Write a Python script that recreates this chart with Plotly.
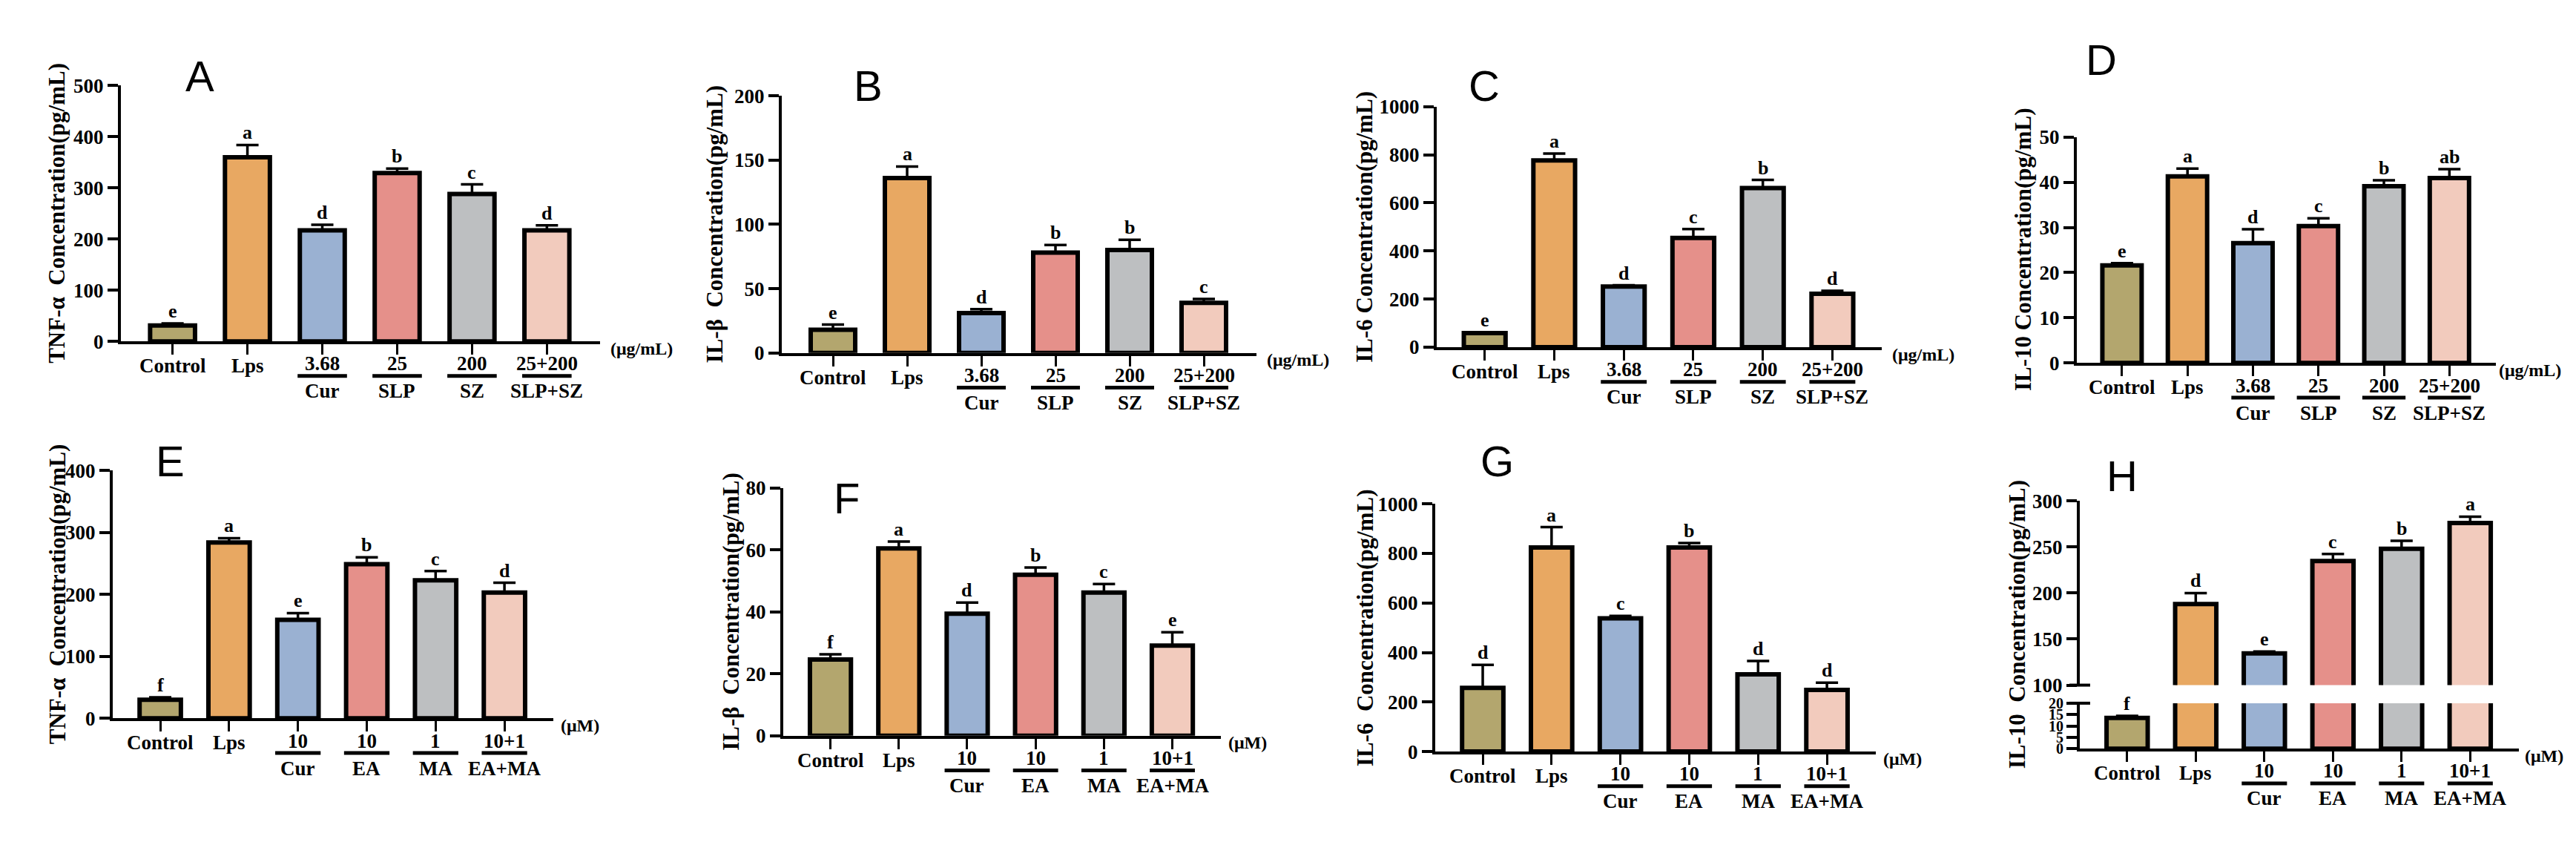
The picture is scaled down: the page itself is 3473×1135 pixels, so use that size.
import plotly.graph_objects as go

W, H = 3473, 1135

# group labels
top_groups = ["Control", "Lps", "Cur", "SLP", "SZ", "SLP+SZ"]
top_doses = ["", "", "3.68", "25", "200", "25+200"]
bottom_groups = ["Control", "Lps", "Cur", "EA", "MA", "EA+MA"]
bottom_doses = ["", "", "10", "10", "1", "10+1"]

bar_colors = ["#b3a66e", "#e8a862", "#9ab1d2", "#e5908a", "#bdbfc1", "#f2cbbd"]

# A  TNF-a (ug/mL treatments)
tnf_a = [31, 360, 217, 329, 288, 217]
tnf_a_err = [4, 24, 11, 9, 19, 10]
tnf_a_sig = ["e", "a", "d", "b", "c", "d"]
# B  IL-b
ilb_b = [18, 136, 31, 78, 80, 39]
ilb_b_err = [4, 9, 3, 6, 8, 3]
ilb_b_sig = ["e", "a", "d", "b", "b", "c"]
# C  IL-6
il6_c = [58, 776, 252, 454, 661, 222]
il6_c_err = [2, 29, 5, 37, 34, 12]
il6_c_sig = ["e", "a", "d", "c", "b", "d"]
# D  IL-10
il10_d = [21.6, 41.3, 26.5, 30.3, 39.1, 40.9]
il10_d_err = [0.5, 1.7, 3.1, 1.7, 1.3, 2.0]
il10_d_sig = ["e", "a", "d", "c", "b", "ab"]
# E  TNF-a (uM treatments)
tnf_e = [30, 284, 159, 249, 223, 203]
tnf_e_err = [4, 7, 11, 11, 15, 16]
tnf_e_sig = ["f", "a", "e", "b", "c", "d"]
# F  IL-b
ilb_f = [24.6, 60.5, 39.4, 52, 46.2, 29.1]
ilb_f_err = [1.7, 2.2, 3.6, 2.3, 2.8, 4.3]
ilb_f_sig = ["f", "a", "d", "b", "c", "e"]
# G  IL-6
il6_g = [257, 824, 538, 824, 312, 249]
il6_g_err = [93, 82, 10, 18, 54, 29]
il6_g_sig = ["d", "a", "c", "b", "d", "d"]
# H  IL-10 (broken axis)
il10_h = [13.5, 188, 134.5, 234.7, 248, 276]
il10_h_err = [0.9, 12, 2, 7.7, 8.8, 7]
il10_h_sig = ["f", "d", "e", "c", "b", "a"]

SERIF = "Liberation Serif"

panels = [
    dict(name="A", vals=tnf_a, err=tnf_a_err, sig=tnf_a_sig, groups=top_groups, doses=top_doses,
         unit="(μg/mL)", title="TNF-α  Concentration(pg/mL)", ymax=500, dtick=100,
         x0=155, x1=801, top=95, zero=449, tdx=86, lx=261, ly=82, ux=12),
    dict(name="B", vals=ilb_b, err=ilb_b_err, sig=ilb_b_sig, groups=top_groups, doses=top_doses,
         unit="(μg/mL)", title="IL-β  Concentration(pg/mL)", ymax=200, dtick=50,
         x0=1046, x1=1686, top=109, zero=465, tdx=91, lx=1162, ly=95, ux=12),
    dict(name="C", vals=il6_c, err=il6_c_err, sig=il6_c_sig, groups=top_groups, doses=top_doses,
         unit="(μg/mL)", title="IL-6 Concentration(pg/mL)", ymax=1000, dtick=200,
         x0=1929, x1=2529, top=124, zero=457, tdx=97, lx=1993, ly=95, ux=12),
    dict(name="D", vals=il10_d, err=il10_d_err, sig=il10_d_sig, groups=top_groups, doses=top_doses,
         unit="(μg/mL)", title="IL-10 Concentration(pg/mL)", ymax=50, dtick=10,
         x0=2792, x1=3357, top=166, zero=479, tdx=72, lx=2825, ly=59, ux=2),
    dict(name="E", vals=tnf_e, err=tnf_e_err, sig=tnf_e_sig, groups=bottom_groups, doses=bottom_doses,
         unit="(μM)", title="TNF-α  Concentration(pg/mL)", ymax=400, dtick=100,
         x0=144, x1=738, top=628, zero=971, tdx=75, lx=221, ly=615, ux=8),
    dict(name="F", vals=ilb_f, err=ilb_f_err, sig=ilb_f_sig, groups=bottom_groups, doses=bottom_doses,
         unit="(μM)", title="IL-β  Concentration(pg/mL)", ymax=80, dtick=20,
         x0=1048, x1=1638, top=652, zero=995, tdx=70, lx=1133, ly=666, ux=8),
    dict(name="G", vals=il6_g, err=il6_g_err, sig=il6_g_sig, groups=bottom_groups, doses=bottom_doses,
         unit="(μM)", title="IL-6  Concentration(pg/mL)", ymax=1000, dtick=200,
         x0=1927, x1=2521, top=674, zero=1017, tdx=95, lx=2010, ly=615, ux=8),
    dict(name="H", vals=il10_h, err=il10_h_err, sig=il10_h_sig, groups=bottom_groups, doses=bottom_doses,
         unit="(μM)", title="IL-10  Concentration(pg/mL)", ymax=20, dtick=5,
         x0=2796, x1=3388, top=950, zero=1013, tdx=85, lx=2853, ly=635, ux=6),
]
# upper segment of panel H
h_up_top, h_up_bottom = 670, 925


def fx(p):
    return p / W


def fy(p):
    return 1 - p / H


fig = go.Figure()
annotations = []
shapes = []
xr = [-0.69, 5.71]
bold = dict(family=SERIF, color="black", weight="bold")


def note(**kw):
    kw.setdefault("showarrow", False)
    kw.setdefault("xanchor", "center")
    kw.setdefault("yanchor", "middle")
    annotations.append(kw)


for i, p in enumerate(panels, start=1):
    xs = "x" if i == 1 else f"x{i}"
    ys = "y" if i == 1 else f"y{i}"
    xk = "xaxis" if i == 1 else f"xaxis{i}"
    yk = "yaxis" if i == 1 else f"yaxis{i}"
    cats = list(range(len(p["vals"])))

    fig.add_trace(go.Bar(
        x=cats, y=p["vals"], xaxis=xs, yaxis=ys, width=0.6,
        marker=dict(color=bar_colors, line=dict(color="black", width=6)),
        error_y=dict(type="data", array=p["err"], arrayminus=[0] * 6, symmetric=False,
                     color="black", thickness=3.5, width=15),
        showlegend=False, hoverinfo="skip"))

    fig.layout[xk] = dict(
        domain=[fx(p["x0"]), fx(p["x1"])], range=xr, anchor=ys,
        showline=True, linewidth=4, linecolor="black", ticks="outside",
        ticklen=14, tickwidth=3, tickcolor="black", tickvals=cats,
        showticklabels=False, showgrid=False, zeroline=False, fixedrange=True)
    fig.layout[yk] = dict(
        domain=[fy(p["zero"]), fy(p["top"])], range=[0, p["ymax"]], dtick=p["dtick"],
        anchor=xs, showline=True, linewidth=4, linecolor="black", ticks="outside",
        ticklen=14, tickwidth=4, tickcolor="black", showgrid=False, zeroline=False,
        tickfont=dict(bold, size=20 if p["name"] == "H" else 27))

    # significance letters
    for j, (v, e, s) in enumerate(zip(p["vals"], p["err"], p["sig"])):
        ay = ys
        if p["name"] == "H" and v > 100:
            ay = "y9"
        note(x=j, y=v + e, xref=xs, yref=ay, text=s, yanchor="bottom",
             font=dict(bold, size=26))

    # category labels
    for j, (g, d) in enumerate(zip(p["groups"], p["doses"])):
        if d == "":
            note(x=j, y=fy(p["zero"] + 34), xref=xs, yref="paper", text=g,
                 font=dict(bold, size=27))
        else:
            note(x=j, y=fy(p["zero"] + 31), xref=xs, yref="paper", text=d,
                 font=dict(bold, size=27))
            note(x=j, y=fy(p["zero"] + 69), xref=xs, yref="paper", text=g,
                 font=dict(bold, size=27))
            shapes.append(dict(type="line", xref=xs, yref="paper", x0=j - 0.33, x1=j + 0.33,
                               y0=fy(p["zero"] + 48), y1=fy(p["zero"] + 48),
                               line=dict(color="black", width=5)))

    # unit label
    note(x=fx(p["x1"] + p["ux"]), y=fy(p["zero"] + 10), xref="paper", yref="paper",
         text=p["unit"], xanchor="left", font=dict(bold, size=24))
    # y title
    ytop = h_up_top if p["name"] == "H" else p["top"]
    note(x=fx(p["x0"] - p["tdx"]), y=fy((ytop + p["zero"]) / 2), xref="paper", yref="paper",
         text=p["title"], textangle=-90, font=dict(bold, size=31))
    # panel letter
    note(x=fx(p["lx"]), y=fy(p["ly"]), xref="paper", yref="paper", text=p["name"],
         font=dict(family="Liberation Sans", size=58, color="black"))

# upper part of the broken axis in panel H
ph = panels[7]
fig.add_trace(go.Bar(
    x=list(range(6)), y=ph["vals"], xaxis="x8", yaxis="y9", width=0.6,
    marker=dict(color=bar_colors, line=dict(color="black", width=6)),
    error_y=dict(type="data", array=ph["err"], arrayminus=[0] * 6, symmetric=False,
                 color="black", thickness=3.5, width=15),
    showlegend=False, hoverinfo="skip"))
fig.layout["yaxis9"] = dict(
    domain=[fy(h_up_bottom), fy(h_up_top)], range=[100, 300], dtick=50, anchor="x8",
    showline=True, linewidth=4, linecolor="black", ticks="outside", ticklen=14,
    tickwidth=4, tickcolor="black", showgrid=False, zeroline=False,
    tickfont=dict(bold, size=27))
for yb in (h_up_bottom, ph["top"]):
    shapes.append(dict(type="line", xref="paper", yref="paper",
                       x0=fx(ph["x0"] - 14), x1=fx(ph["x0"] + 14), y0=fy(yb), y1=fy(yb),
                       line=dict(color="black", width=4)))

fig.update_layout(
    width=W, height=H, margin=dict(l=0, r=0, t=0, b=0),
    paper_bgcolor="white", plot_bgcolor="white",
    annotations=annotations, shapes=shapes, bargap=0.4)

fig.write_html("out.html")
